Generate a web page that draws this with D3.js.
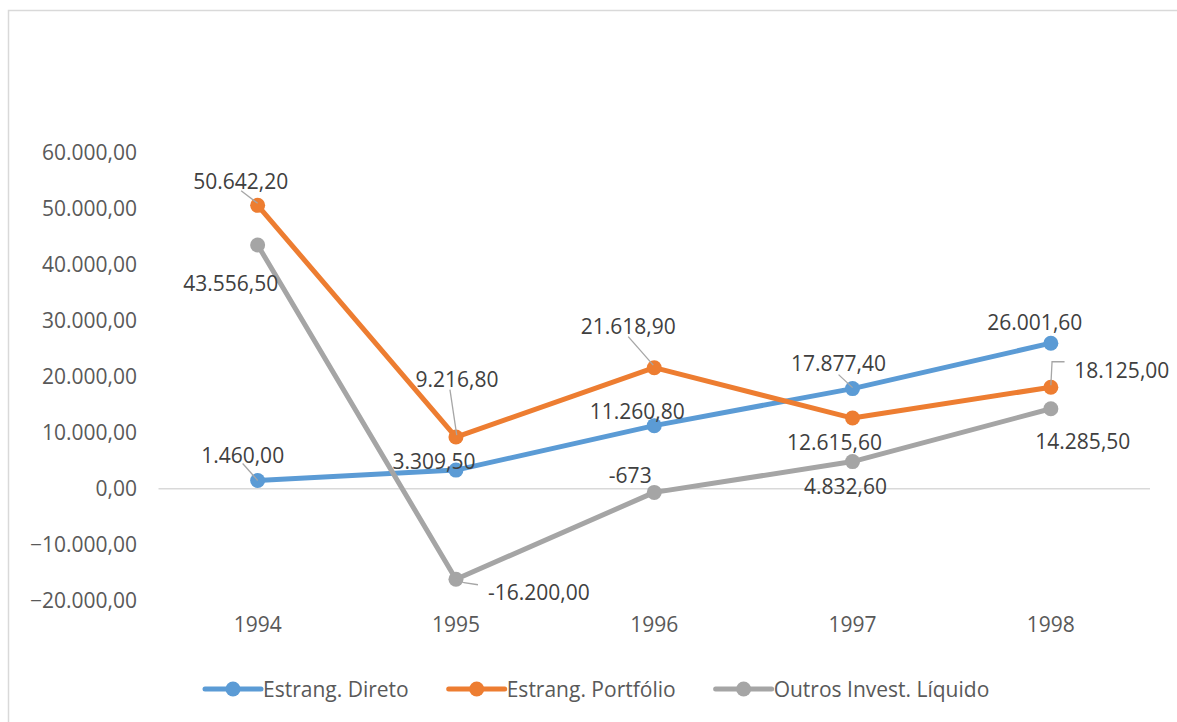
<!DOCTYPE html>
<html>
<head>
<meta charset="utf-8">
<script src="https://cdn.jsdelivr.net/npm/d3@7"></script>
<style>
  html, body { margin: 0; padding: 0; background: #fff; }
  svg { display: block; font-family: "Open Sans", sans-serif; }
</style>
</head>
<body>
<svg id="chart" width="1177" height="722"></svg>
<script>
// Years on the category axis
const years = ["1994", "1995", "1996", "1997", "1998"];

// Series values
const estrangDireto = [1460.0, 3309.5, 11260.8, 17877.4, 26001.6];
const estrangPortfolio = [50642.2, 9216.8, 21618.9, 12615.6, 18125.0];
const outrosInvest = [43556.5, -16200.0, -673, 4832.6, 14285.5];

// Value axis ticks
const yTicks = [-20000, -10000, 0, 10000, 20000, 30000, 40000, 50000, 60000];

// Text shown on each data label
const labelsDireto = ["1.460,00", "3.309,50", "11.260,80", "17.877,40", "26.001,60"];
const labelsPortfolio = ["50.642,20", "9.216,80", "21.618,90", "12.615,60", "18.125,00"];
const labelsOutros = ["43.556,50", "-16.200,00", "-673", "4.832,60", "14.285,50"];

const seriesNames = ["Estrang. Direto", "Estrang. Portfólio", "Outros Invest. Líquido"];
const seriesColors = ["#5B9BD5", "#ED7D31", "#A5A5A5"];

// Label placement relative to each point: [dx, dy] of the label's center/baseline
const labelOffsets = [
  [[-15, -25], [-22, -9], [-17, -14], [-14, -25], [-16, -21]],
  [[-17, -24], [1, -58], [-26, -41], [-18, 24], [71, -17]],
  [[-27, 39], [83, 13], [-24, -17], [-7, 25], [32, 33]]
];
// Leader lines from label to point, as relative polylines
const leaderLines = [
  [[0, 0, [[-15, -17], [0, 0]]], [0, 3, [[-14, -14], [0, -1]]]],
  [[1, 0, [[-16.5, -14.5], [0, -2]]], [1, 1, [[-6, -47.5], [0.8, -2]]],
   [1, 2, [[-26, -31], [-1, -2.5]]], [1, 4, [[0, -2], [1.2, -25.5], [13.7, -25.5]]]],
  [[2, 1, [[0, 0], [8, 3.5], [22, 5.5]]]]
];

const svg = d3.select("#chart");

// Outer chart frame
svg.append("rect")
  .attr("x", 8.5).attr("y", 10.5)
  .attr("width", 1200).attr("height", 800)
  .attr("fill", "none").attr("stroke", "#d9d9d9").attr("stroke-width", 1.5);

const x = d3.scaleBand().domain(years).range([158.5, 1150]);
const y = d3.scaleLinear().domain([-20000, 60000]).range([600.5, 153]);
const cx = d => x(d) + x.bandwidth() / 2;

// Value axis labels
const yAxis = d3.axisLeft(y).tickValues(yTicks).tickSize(0).tickPadding(0)
  .tickFormat(v => d3.format(",.2f")(v).replace(/,/g, "#").replace(".", ",").replace(/#/g, "."));
const yg = svg.append("g").attr("transform", "translate(137,0)").call(yAxis);
yg.select(".domain").remove();
yg.selectAll("text").attr("font-size", 21).attr("fill", "#595959")
  .attr("font-family", "Open Sans, sans-serif");

// Zero line (horizontal category axis)
svg.append("line")
  .attr("x1", 158.5).attr("x2", 1150)
  .attr("y1", y(0)).attr("y2", y(0))
  .attr("stroke", "#d9d9d9").attr("stroke-width", 1.5);

// Category labels
const xAxis = d3.axisBottom(x).tickSize(0).tickPadding(0);
const xg = svg.append("g").attr("transform", "translate(0,617)").call(xAxis);
xg.select(".domain").remove();
xg.selectAll("text").attr("font-size", 21).attr("fill", "#595959")
  .attr("font-family", "Open Sans, sans-serif");

const allSeries = [estrangDireto, estrangPortfolio, outrosInvest];
const allLabels = [labelsDireto, labelsPortfolio, labelsOutros];

const line = d3.line().x((d, i) => cx(years[i])).y(d => y(d));

allSeries.forEach((vals, s) => {
  const g = svg.append("g");
  g.append("path").datum(vals)
    .attr("d", line)
    .attr("fill", "none")
    .attr("stroke", seriesColors[s])
    .attr("stroke-width", 5)
    .attr("stroke-linejoin", "round")
    .attr("stroke-linecap", "round");
  g.selectAll("circle").data(vals).join("circle")
    .attr("cx", (d, i) => cx(years[i]))
    .attr("cy", d => y(d))
    .attr("r", 7.5)
    .attr("fill", seriesColors[s]);
});

// Leader lines
const lg = svg.append("g");
leaderLines.forEach(group => group.forEach(([s, i, pts]) => {
  const px = cx(years[i]), py = y(allSeries[s][i]);
  lg.append("polyline")
    .attr("points", pts.map(p => [px + p[0], py + p[1]].join(",")).join(" "))
    .attr("fill", "none").attr("stroke", "#a6a6a6").attr("stroke-width", 1.3);
}));

// Data labels
allSeries.forEach((vals, s) => {
  svg.append("g").selectAll("text").data(vals).join("text")
    .attr("x", (d, i) => cx(years[i]) + labelOffsets[s][i][0])
    .attr("y", (d, i) => y(d) + labelOffsets[s][i][1] + 7.5)
    .attr("text-anchor", "middle")
    .attr("font-size", 21)
    .attr("fill", "#404040")
    .text((d, i) => allLabels[s][i]);
});

// Legend
const legend = svg.append("g").attr("transform", "translate(205,689)");
let lx = 0;
seriesNames.forEach((name, s) => {
  const item = legend.append("g").attr("transform", `translate(${lx},0)`);
  item.append("line").attr("x1", 0).attr("x2", 56).attr("y1", 0).attr("y2", 0)
    .attr("stroke", seriesColors[s]).attr("stroke-width", 5).attr("stroke-linecap", "round");
  item.append("circle").attr("cx", 28).attr("cy", 0).attr("r", 7.5).attr("fill", seriesColors[s]);
  const t = item.append("text").attr("x", 58).attr("y", 7.5)
    .attr("font-size", 21).attr("fill", "#595959").text(name);
  lx += 58 + t.node().getComputedTextLength() + 40;
});
</script>
</body>
</html>
